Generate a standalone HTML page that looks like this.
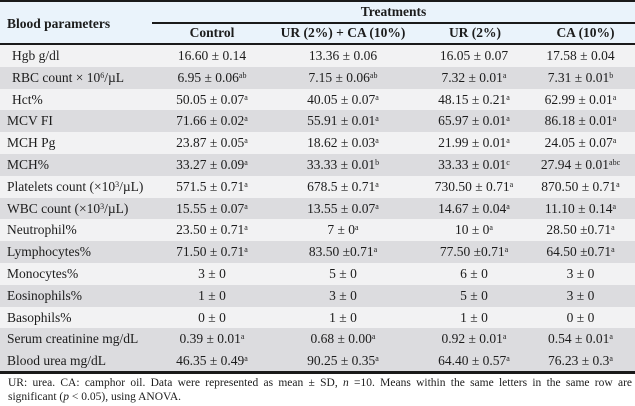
<!DOCTYPE html>
<html>
<head>
<meta charset="utf-8">
<style>
html,body{margin:0;padding:0;}
body{width:635px;height:406px;position:relative;overflow:hidden;background:#ffffff;font-family:"Liberation Serif","Times New Roman",serif;color:#1c1c1c;}
.topline{position:absolute;left:0;top:0;width:635px;height:2px;background:#1a1a1a;}
.hdr{position:absolute;left:0;top:2px;width:635px;height:41px;background:#eaf3fb;}
.tline{position:absolute;left:152px;top:22px;width:483px;height:2px;background:#1a1a1a;}
.hline{position:absolute;left:0;top:43px;width:635px;height:2px;background:#1a1a1a;}
.bline{position:absolute;left:0;top:371px;width:635px;height:3px;background:#1a1a1a;}
.h{position:absolute;font-weight:bold;font-size:13.5px;line-height:16px;white-space:nowrap;text-align:center;}
.row{position:absolute;left:0;width:635px;height:21.8px;}
.row.l{background:#f2f2f3;}
.row.d{background:#dcdcdf;}
.c{position:absolute;top:0;height:21.8px;line-height:21.8px;font-size:13.5px;white-space:nowrap;text-align:center;}
.lab{left:7px;text-align:left;}
.lab.i{left:12px;}
.c1{left:152px;width:120px;}
.c2{left:272px;width:142px;}
.c3{left:414px;width:120px;}
.c4{left:534px;width:93px;}
sup{font-size:8px;vertical-align:4px;line-height:0;}
.foot{position:absolute;left:8px;width:624px;font-size:11.5px;line-height:14px;color:#1c1c1c;}
.j{text-align:justify;text-align-last:justify;}
</style>
</head>
<body>
<div class="topline"></div>
<div class="hdr"></div>
<div class="tline"></div>
<div class="hline"></div>

<div class="h" style="left:7px;top:16px;text-align:left;">Blood parameters</div>
<div class="h" style="left:152px;width:483px;top:4px;">Treatments</div>
<div class="h" style="left:152px;width:120px;top:25px;">Control</div>
<div class="h" style="left:272px;width:142px;top:25px;">UR (2%) + CA (10%)</div>
<div class="h" style="left:414px;width:122px;top:25px;">UR (2%)</div>
<div class="h" style="left:536px;width:99px;top:25px;">CA (10%)</div>

<div class="row l" style="top:45px;"><div class="c lab i">Hgb g/dl</div><div class="c c1">16.60 ± 0.14</div><div class="c c2">13.36 ± 0.06</div><div class="c c3">16.05 ± 0.07</div><div class="c c4">17.58 ± 0.04</div></div>
<div class="row d" style="top:66.8px;"><div class="c lab i">RBC count × 10<sup>6</sup>/µL</div><div class="c c1">6.95 ± 0.06<sup>ab</sup></div><div class="c c2">7.15 ± 0.06<sup>ab</sup></div><div class="c c3">7.32 ± 0.01<sup>a</sup></div><div class="c c4">7.31 ± 0.01<sup>b</sup></div></div>
<div class="row l" style="top:88.6px;"><div class="c lab i">Hct%</div><div class="c c1">50.05 ± 0.07<sup>a</sup></div><div class="c c2">40.05 ± 0.07<sup>a</sup></div><div class="c c3">48.15 ± 0.21<sup>a</sup></div><div class="c c4">62.99 ± 0.01<sup>a</sup></div></div>
<div class="row d" style="top:110.4px;"><div class="c lab">MCV FI</div><div class="c c1">71.66 ± 0.02<sup>a</sup></div><div class="c c2">55.91 ± 0.01<sup>a</sup></div><div class="c c3">65.97 ± 0.01<sup>a</sup></div><div class="c c4">86.18 ± 0.01<sup>a</sup></div></div>
<div class="row l" style="top:132.2px;"><div class="c lab">MCH Pg</div><div class="c c1">23.87 ± 0.05<sup>a</sup></div><div class="c c2">18.62 ± 0.03<sup>a</sup></div><div class="c c3">21.99 ± 0.01<sup>a</sup></div><div class="c c4">24.05 ± 0.07<sup>a</sup></div></div>
<div class="row d" style="top:154px;"><div class="c lab">MCH%</div><div class="c c1">33.27 ± 0.09<sup>a</sup></div><div class="c c2">33.33 ± 0.01<sup>b</sup></div><div class="c c3">33.33 ± 0.01<sup>c</sup></div><div class="c c4">27.94 ± 0.01<sup>abc</sup></div></div>
<div class="row l" style="top:175.8px;"><div class="c lab">Platelets count (×10<sup>3</sup>/µL)</div><div class="c c1">571.5 ± 0.71<sup>a</sup></div><div class="c c2">678.5 ± 0.71<sup>a</sup></div><div class="c c3">730.50 ± 0.71<sup>a</sup></div><div class="c c4">870.50 ± 0.71<sup>a</sup></div></div>
<div class="row d" style="top:197.6px;"><div class="c lab">WBC count (×10<sup>3</sup>/µL)</div><div class="c c1">15.55 ± 0.07<sup>a</sup></div><div class="c c2">13.55 ± 0.07<sup>a</sup></div><div class="c c3">14.67 ± 0.04<sup>a</sup></div><div class="c c4">11.10 ± 0.14<sup>a</sup></div></div>
<div class="row l" style="top:219.4px;"><div class="c lab">Neutrophil%</div><div class="c c1">23.50 ± 0.71<sup>a</sup></div><div class="c c2">7 ± 0<sup>a</sup></div><div class="c c3">10 ± 0<sup>a</sup></div><div class="c c4">28.50 ±0.71<sup>a</sup></div></div>
<div class="row d" style="top:241.2px;"><div class="c lab">Lymphocytes%</div><div class="c c1">71.50 ± 0.71<sup>a</sup></div><div class="c c2">83.50 ±0.71<sup>a</sup></div><div class="c c3">77.50 ±0.71<sup>a</sup></div><div class="c c4">64.50 ±0.71<sup>a</sup></div></div>
<div class="row l" style="top:263px;"><div class="c lab">Monocytes%</div><div class="c c1">3 ± 0</div><div class="c c2">5 ± 0</div><div class="c c3">6 ± 0</div><div class="c c4">3 ± 0</div></div>
<div class="row d" style="top:284.8px;"><div class="c lab">Eosinophils%</div><div class="c c1">1 ± 0</div><div class="c c2">3 ± 0</div><div class="c c3">5 ± 0</div><div class="c c4">3 ± 0</div></div>
<div class="row l" style="top:306.6px;"><div class="c lab">Basophils%</div><div class="c c1">0 ± 0</div><div class="c c2">1 ± 0</div><div class="c c3">1 ± 0</div><div class="c c4">0 ± 0</div></div>
<div class="row d" style="top:328.4px;"><div class="c lab">Serum creatinine mg/dL</div><div class="c c1">0.39 ± 0.01<sup>a</sup></div><div class="c c2">0.68 ± 0.00<sup>a</sup></div><div class="c c3">0.92 ± 0.01<sup>a</sup></div><div class="c c4">0.54 ± 0.01<sup>a</sup></div></div>
<div class="row d" style="top:350.2px;"><div class="c lab">Blood urea mg/dL</div><div class="c c1">46.35 ± 0.49<sup>a</sup></div><div class="c c2">90.25 ± 0.35<sup>a</sup></div><div class="c c3">64.40 ± 0.57<sup>a</sup></div><div class="c c4">76.23 ± 0.3<sup>a</sup></div></div>

<div class="bline"></div>

<div class="foot j" style="top:376px;">UR: urea. CA: camphor oil. Data were represented as mean ± SD, <i>n</i> =10. Means within the same letters in the same row are</div>
<div class="foot" style="top:390px;">significant (<i>p</i> &lt; 0.05), using ANOVA.</div>
</body>
</html>
